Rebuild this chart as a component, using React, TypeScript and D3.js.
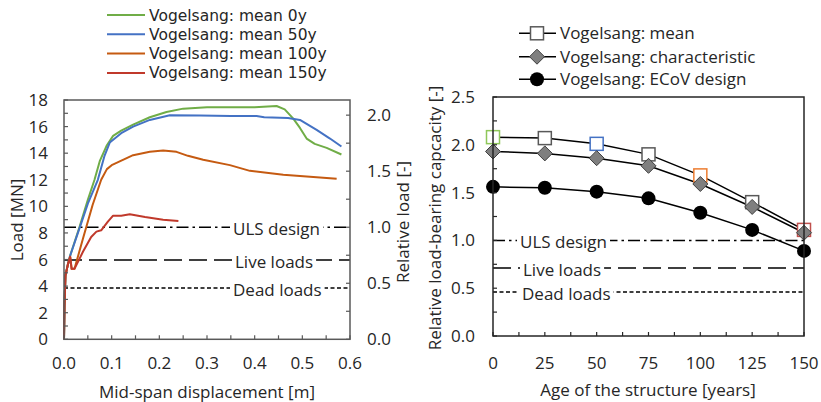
import React, { useLayoutEffect, useRef, useState } from "react";
import * as d3 from "d3";

// ---------- data ----------
type P = [number, number];
const seriesNames = ["Vogelsang: mean 0y", "Vogelsang: mean 50y", "Vogelsang: mean 100y", "Vogelsang: mean 150y"];
const seriesColors = ["#70ad47", "#4472c4", "#c55a11", "#c0392b"];

const mean0y: P[] = [
  [0, 0], [0.001, 2.5], [0.003, 4.8], [0.008, 5.6], [0.013, 6.3], [0.033, 8.5], [0.05, 10.5], [0.064, 12.0],
  [0.075, 13.4], [0.09, 14.6], [0.103, 15.3], [0.12, 15.7], [0.145, 16.15], [0.18, 16.7], [0.215, 17.1],
  [0.25, 17.35], [0.3, 17.45], [0.35, 17.45], [0.4, 17.45], [0.446, 17.55], [0.463, 17.3], [0.481, 16.6],
  [0.495, 15.9], [0.509, 15.1], [0.526, 14.7], [0.551, 14.4], [0.582, 13.9],
];
const mean50y: P[] = [
  [0, 0], [0.001, 2.5], [0.003, 4.8], [0.008, 5.6], [0.013, 6.3], [0.033, 8.4], [0.05, 10.2], [0.071, 12.0],
  [0.085, 13.8], [0.096, 14.8], [0.12, 15.5], [0.145, 16.0], [0.18, 16.5], [0.222, 16.85], [0.285, 16.83],
  [0.35, 16.8], [0.404, 16.8], [0.42, 16.7], [0.47, 16.65], [0.495, 16.5], [0.509, 16.2], [0.53, 15.75],
  [0.558, 15.1], [0.582, 14.5],
];
const mean100y: P[] = [
  [0, 0], [0.001, 2.5], [0.003, 4.8], [0.008, 5.6], [0.013, 6.2], [0.016, 5.3], [0.022, 5.3], [0.04, 7.6],
  [0.06, 10.1], [0.078, 12.0], [0.09, 12.8], [0.1, 13.1], [0.145, 13.85], [0.18, 14.1], [0.208, 14.2],
  [0.236, 14.1], [0.26, 13.8], [0.292, 13.5], [0.348, 13.1], [0.39, 12.67], [0.46, 12.37], [0.509, 12.25],
  [0.572, 12.07],
];
const mean150y: P[] = [
  [0, 0], [0.001, 2.5], [0.003, 4.8], [0.008, 5.6], [0.013, 6.2], [0.016, 5.3], [0.022, 5.3], [0.04, 6.6],
  [0.057, 7.7], [0.068, 8.1], [0.078, 8.2], [0.092, 8.85], [0.103, 9.3], [0.12, 9.3], [0.138, 9.4],
  [0.17, 9.2], [0.208, 9.0], [0.24, 8.9],
];
const curves = [mean0y, mean50y, mean100y, mean150y];

const refLabels = ["ULS design", "Live loads", "Dead loads"];
const refLoadsMN = [8.43, 5.97, 3.85];
const relPerMN = 1 / 8.43;

const xTicksL = [0, 0.1, 0.2, 0.3, 0.4, 0.5, 0.6];
const yTicksL = [0, 2, 4, 6, 8, 10, 12, 14, 16, 18];
const yTicksRel = [0, 0.5, 1.0, 1.5, 2.0];

// right chart
const ages = [0, 25, 50, 75, 100, 125, 150];
const meanCap = [2.08, 2.07, 2.01, 1.9, 1.68, 1.4, 1.11];
const charCap = [1.93, 1.91, 1.86, 1.78, 1.59, 1.35, 1.08];
const ecovCap = [1.56, 1.55, 1.51, 1.44, 1.29, 1.11, 0.89];
const meanHighlight: (string | null)[] = ["#8fc75a", null, "#4472c4", null, "#ed7d31", null, "#c0504d"];
const refRel = [1.0, 0.71, 0.46];
const yTicksR = [0, 0.5, 1.0, 1.5, 2.0, 2.5];
const legendR = ["Vogelsang: mean", "Vogelsang: characteristic", "Vogelsang: ECoV design"];

const FONT = "'Open Sans', sans-serif";
const LEG_FONT = "'DejaVu Sans', 'Open Sans', sans-serif";
const FS = 17;
const TXT = "#262626";
const AX = "#595959";
const dashes = ["12,4,2.5,4", "18,7", "4,2.5"];

function RefLine({ x0, x1, y, label, lx, dash }: { x0: number; x1: number; y: number; label: string; lx: number; dash: string }) {
  const ref = useRef<SVGTextElement>(null);
  const [w, setW] = useState(80);
  useLayoutEffect(() => {
    if (ref.current) setW(ref.current.getComputedTextLength());
  }, [label]);
  return (
    <g>
      <line x1={x0} x2={x1} y1={y} y2={y} stroke="#000" strokeWidth={1.5} strokeDasharray={dash} />
      <rect x={lx - 3} y={y - 7} width={w + 6} height={17} fill="#fff" />
      <text ref={ref} x={lx} y={y + 8} fontSize={FS} fill={TXT} fontFamily={FONT}>{label}</text>
    </g>
  );
}

function LeftChart() {
  const x = d3.scaleLinear().domain([0, 0.6]).range([64, 350]);
  const y = d3.scaleLinear().domain([0, 18]).range([339.3, 100]);
  const yr = d3.scaleLinear().domain([0, 18 * relPerMN]).range([339.3, 100]);
  const lineLin = d3.line<P>().x((d) => x(d[0])).y((d) => y(d[1]));
  const minorX = d3.range(0, 0.6001, 0.05);
  const minorY = d3.range(0, 18.001, 1);
  const minorR = d3.range(0, 2.001, 0.25);
  const labelX = [233, 235, 233];
  return (
    <g>
      {seriesNames.map((n, i) => (
        <g key={n}>
          <line x1={107} x2={145} y1={15 + i * 19.3} y2={15 + i * 19.3} stroke={seriesColors[i]} strokeWidth={2} />
          <text x={149} y={15 + i * 19.3 + 5.5} fontSize={15.5} fontFamily={LEG_FONT} fill={TXT}>{n}</text>
        </g>
      ))}
      {refLabels.map((l, i) => (
        <RefLine key={l} x0={x(0)} x1={x(0.6)} y={y(refLoadsMN[i])} label={l} lx={labelX[i]} dash={dashes[i]} />
      ))}
      {curves.map((c, i) => (
        <path key={i} d={lineLin(c) || ""} fill="none" stroke={seriesColors[i]} strokeWidth={2} strokeLinejoin="round" />
      ))}
      <rect x={x(0)} y={y(18)} width={x(0.6) - x(0)} height={y(0) - y(18)} fill="none" stroke={AX} strokeWidth={1.5} />
      {minorX.map((t) => (
        <line key={"mx" + t} x1={x(t)} x2={x(t)} y1={y(0)} y2={y(0) - 4} stroke={AX} strokeWidth={1.2} />
      ))}
      {minorY.map((t) => (
        <line key={"my" + t} x1={x(0)} x2={x(0) + 4} y1={y(t)} y2={y(t)} stroke={AX} strokeWidth={1.2} />
      ))}
      {minorR.map((t) => (
        <line key={"mr" + t} x1={x(0.6)} x2={x(0.6) - 4} y1={yr(t)} y2={yr(t)} stroke={AX} strokeWidth={1.2} />
      ))}
      {xTicksL.map((t) => (
        <text key={"xt" + t} x={x(t)} y={369} textAnchor="middle" fontSize={FS} fontFamily={FONT} fill={TXT}>{t.toFixed(1)}</text>
      ))}
      {yTicksL.map((t) => (
        <text key={"yt" + t} x={48} y={y(t) + 6} textAnchor="end" fontSize={FS} fontFamily={FONT} fill={TXT}>{t}</text>
      ))}
      {yTicksRel.map((t) => (
        <text key={"rt" + t} x={367} y={yr(t) + 6} textAnchor="start" fontSize={FS} fontFamily={FONT} fill={TXT}>{t.toFixed(1)}</text>
      ))}
      <text x={207} y={398} textAnchor="middle" fontSize={FS} fontFamily={FONT} fill={TXT}>Mid-span displacement [m]</text>
      <text transform={`translate(23,220) rotate(-90)`} textAnchor="middle" fontSize={FS} fontFamily={FONT} fill={TXT}>Load [MN]</text>
      <text transform={`translate(409,222) rotate(-90)`} textAnchor="middle" fontSize={FS} fontFamily={FONT} fill={TXT}>Relative load [-]</text>
    </g>
  );
}

function Square({ cx, cy, stroke }: { cx: number; cy: number; stroke: string }) {
  return <rect x={cx - 6.5} y={cy - 6.5} width={13} height={13} fill="#fff" stroke={stroke} strokeWidth={1.5} />;
}
function Diamond({ cx, cy }: { cx: number; cy: number }) {
  const s = 7.5;
  return <path d={`M${cx},${cy - s}L${cx + s},${cy}L${cx},${cy + s}L${cx - s},${cy}Z`} fill="#7f7f7f" stroke="#404040" strokeWidth={1} />;
}
function Dot({ cx, cy }: { cx: number; cy: number }) {
  return <circle cx={cx} cy={cy} r={7} fill="#000" />;
}

function RightChart() {
  const x = d3.scaleLinear().domain([0, 150]).range([493, 804]);
  const y = d3.scaleLinear().domain([0, 2.5]).range([336, 97]);
  const mk = (vals: number[]) => d3.line<number>().x((_, i) => x(ages[i])).y((d) => y(d))(vals) || "";
  const minorX = d3.range(0, 150.001, 12.5);
  const minorY = d3.range(0, 2.5001, 0.25);
  const labelX = [520, 523, 522];
  const ly = [33.3, 56.7, 79.3];
  return (
    <g>
      {legendR.map((n, i) => (
        <g key={n}>
          <line x1={519} x2={556} y1={ly[i]} y2={ly[i]} stroke="#000" strokeWidth={1.5} />
          {i === 0 && <Square cx={537} cy={ly[i]} stroke="#595959" />}
          {i === 1 && <Diamond cx={537} cy={ly[i]} />}
          {i === 2 && <Dot cx={537} cy={ly[i]} />}
          <text x={560} y={ly[i] + 6} fontSize={FS} fontFamily={FONT} fill={TXT}>{n}</text>
        </g>
      ))}
      {refLabels.map((l, i) => (
        <RefLine key={l} x0={x(0)} x1={x(150)} y={y(refRel[i])} label={l} lx={labelX[i]} dash={dashes[i]} />
      ))}
      <path d={mk(meanCap)} fill="none" stroke="#000" strokeWidth={1.5} />
      <path d={mk(charCap)} fill="none" stroke="#000" strokeWidth={1.5} />
      <path d={mk(ecovCap)} fill="none" stroke="#000" strokeWidth={1.5} />
      {ecovCap.map((v, i) => <Dot key={"e" + i} cx={x(ages[i])} cy={y(v)} />)}
      {meanCap.map((v, i) => <Square key={"m" + i} cx={x(ages[i])} cy={y(v)} stroke={meanHighlight[i] || "#595959"} />)}
      {charCap.map((v, i) => <Diamond key={"c" + i} cx={x(ages[i])} cy={y(v)} />)}
      <rect x={x(0)} y={y(2.5)} width={x(150) - x(0)} height={y(0) - y(2.5)} fill="none" stroke={TXT} strokeWidth={1.5} />
      {minorX.map((t) => (
        <line key={"mx" + t} x1={x(t)} x2={x(t)} y1={y(0)} y2={y(0) - 4} stroke={TXT} strokeWidth={1.2} />
      ))}
      {minorY.map((t) => (
        <line key={"my" + t} x1={x(0)} x2={x(0) + 4} y1={y(t)} y2={y(t)} stroke={TXT} strokeWidth={1.2} />
      ))}
      {ages.map((t) => (
        <text key={"xt" + t} x={x(t)} y={369} textAnchor="middle" fontSize={FS} fontFamily={FONT} fill={TXT}>{t}</text>
      ))}
      {yTicksR.map((t) => (
        <text key={"yt" + t} x={475} y={y(t) + 6} textAnchor="end" fontSize={FS} fontFamily={FONT} fill={TXT}>{t.toFixed(1)}</text>
      ))}
      <text x={648} y={396} textAnchor="middle" fontSize={FS} fontFamily={FONT} fill={TXT}>Age of the structure [years]</text>
      <text transform={`translate(441,218) rotate(-90)`} textAnchor="middle" fontSize={FS} fontFamily={FONT} fill={TXT}>Relative load-bearing capcacity [-]</text>
    </g>
  );
}

export default function App() {
  return (
    <svg width={821} height={402} style={{ position: "absolute", left: 0, top: 0, background: "#fff" }}>
      <rect width={821} height={402} fill="#fff" />
      <LeftChart />
      <RightChart />
    </svg>
  );
}
